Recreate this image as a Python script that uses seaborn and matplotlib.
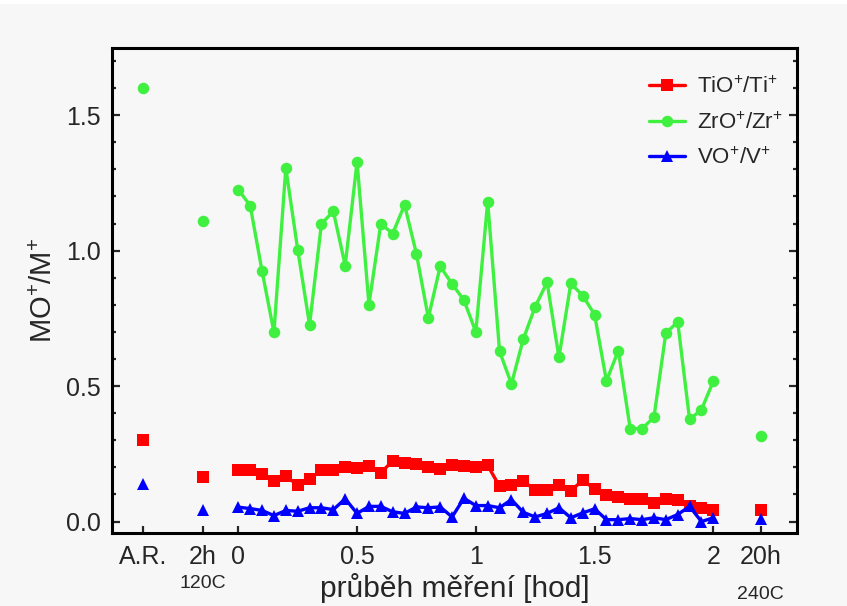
import numpy as np
import pandas as pd
import matplotlib
matplotlib.use("Agg")
import matplotlib.pyplot as plt
from matplotlib.patches import Rectangle
from matplotlib.ticker import MultipleLocator, FixedLocator, FormatStrFormatter
import seaborn as sns

# Measurement time [h] during the run (0 .. 2 h, 0.05 h step)
time_h = np.round(np.arange(0, 2.0001, 0.05), 2)

# Single reference points: as received, after 2 h at 120 C, after 20 h at 240 C
ref_pos = [-0.40, -0.15, 2.20]

tio_run = [0.189, 0.189, 0.177, 0.148, 0.167, 0.135, 0.158, 0.189, 0.192, 0.202,
           0.199, 0.204, 0.180, 0.224, 0.217, 0.213, 0.202, 0.194, 0.207, 0.204,
           0.202, 0.207, 0.130, 0.135, 0.149, 0.116, 0.116, 0.135, 0.114, 0.152,
           0.121, 0.099, 0.090, 0.084, 0.084, 0.069, 0.084, 0.079, 0.059, 0.051,
           0.042]
tio_ref = [0.300, 0.166, 0.044]

zro_run = [1.225, 1.166, 0.924, 0.699, 1.305, 1.004, 0.726, 1.099, 1.145, 0.945,
           1.328, 0.801, 1.099, 1.063, 1.169, 0.988, 0.752, 0.942, 0.877, 0.817,
           0.700, 1.181, 0.628, 0.508, 0.674, 0.793, 0.883, 0.606, 0.879, 0.834,
           0.764, 0.519, 0.631, 0.343, 0.343, 0.385, 0.695, 0.737, 0.377, 0.413,
           0.518]
zro_ref = [1.600, 1.111, 0.315]

vo_run = [0.053, 0.048, 0.041, 0.022, 0.041, 0.038, 0.051, 0.051, 0.044, 0.084,
          0.030, 0.056, 0.056, 0.036, 0.030, 0.054, 0.051, 0.054, 0.017, 0.086,
          0.059, 0.059, 0.051, 0.081, 0.034, 0.017, 0.030, 0.051, 0.014, 0.032,
          0.047, 0.007, 0.007, 0.011, 0.007, 0.014, 0.007, 0.026, 0.056, 0.000,
          0.014]
vo_ref = [0.140, 0.044, 0.011]

tick_pos = [-0.40, -0.15, 0.0, 0.5, 1.0, 1.5, 2.0, 2.20]
tick_labels = ["A.R.", "2h", "0", "0.5", "1", "1.5", "2", "20h"]

series = [
    (r"TiO$^{+}$/Ti$^{+}$", tio_run, tio_ref, "#ff0000", "s", 8.5),
    (r"ZrO$^{+}$/Zr$^{+}$", zro_run, zro_ref, "#40f040", "o", 8.3),
    (r"VO$^{+}$/V$^{+}$", vo_run, vo_ref, "#0000ff", "^", 9.0),
]

sns.set_style("ticks")
plt.rcParams["font.family"] = ["Liberation Sans", "DejaVu Sans"]
plt.rcParams["mathtext.fontset"] = "custom"
plt.rcParams["mathtext.rm"] = "Liberation Sans"
plt.rcParams["mathtext.default"] = "regular"

bg = "#f7f7f7"
fig = plt.figure(figsize=(8.47, 6.06), dpi=100, facecolor=bg)
# thin white band along the top edge of the canvas
fig.patches.append(Rectangle((0, 1 - 4 / 606), 1, 4 / 606, transform=fig.transFigure,
                             facecolor="white", edgecolor="none", zorder=-1))
ax = fig.add_axes([0.1322, 0.121, 0.8084, 0.799], facecolor=bg)

for label, run, ref, color, marker, ms in series:
    df_run = pd.DataFrame({"t": time_h, "ratio": run})
    sns.lineplot(data=df_run, x="t", y="ratio", ax=ax, color=color, lw=2.4,
                 marker=marker, markersize=ms, markeredgecolor=color,
                 markeredgewidth=0, label=label)
    df_ref = pd.DataFrame({"t": ref_pos, "ratio": ref})
    sns.lineplot(data=df_ref, x="t", y="ratio", ax=ax, color=color, lw=0,
                 marker=marker, markersize=ms, markeredgecolor=color,
                 markeredgewidth=0, legend=False)

ax.set_xlim(-0.532, 2.351)
ax.set_ylim(-0.041, 1.746)

ax.xaxis.set_major_locator(FixedLocator(tick_pos))
ax.set_xticklabels(tick_labels)
ax.yaxis.set_major_locator(MultipleLocator(0.5))
ax.yaxis.set_minor_locator(MultipleLocator(0.1))
ax.yaxis.set_major_formatter(FormatStrFormatter("%.1f"))

ax.tick_params(axis="x", which="major", direction="in", length=5, width=1.6,
               labelsize=18, pad=9, top=False)
ax.tick_params(axis="y", which="major", direction="in", length=6, width=1.6,
               labelsize=18, pad=8, left=True, right=True)
ax.tick_params(axis="y", which="minor", direction="in", length=3, width=1.6,
               left=True, right=True)

for sp in ax.spines.values():
    sp.set_visible(True)
    sp.set_linewidth(2.2)
    sp.set_color("black")

ax.set_xlabel("průběh měření [hod]", fontsize=21.5, labelpad=3)
ax.set_ylabel(r"MO$^{+}$/M$^{+}$", fontsize=21, labelpad=6)

ax.text(-0.15, -0.104, "120C", transform=ax.get_xaxis_transform(),
        ha="center", va="center", fontsize=14)
ax.text(2.20, -0.127, "240C", transform=ax.get_xaxis_transform(),
        ha="center", va="center", fontsize=14)

leg = ax.legend(loc="upper left", bbox_to_anchor=(0.772, 0.96), frameon=False,
                fontsize=16, handlelength=1.6, handletextpad=0.55,
                labelspacing=0.63, borderaxespad=0)

fig.savefig("out.png", dpi=100, facecolor=bg)
